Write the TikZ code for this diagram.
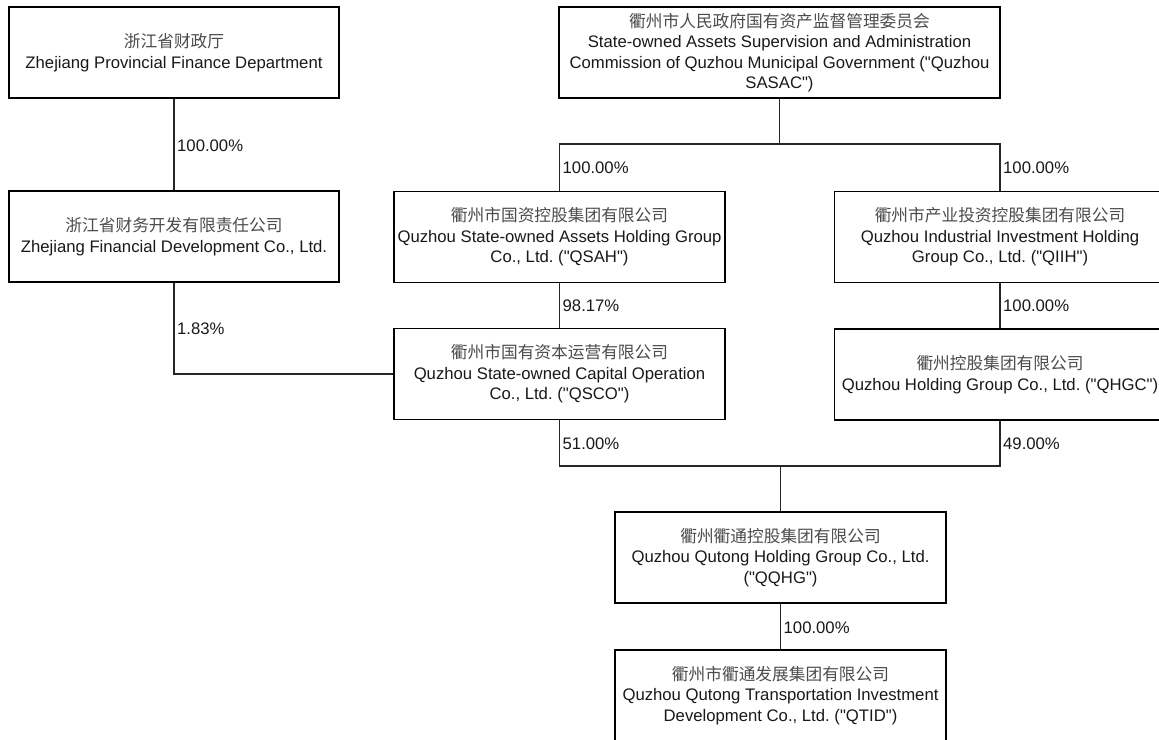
\documentclass[tikz,border=0pt]{standalone}
\usepackage{fontspec}
\setmainfont{Liberation Sans}[Ligatures=TeXOff]
\newfontfamily\cjk{Noto Sans CJK SC}
\frenchspacing
\tikzset{
  ent/.style={draw=black, line width=1.6pt, fill=white, minimum height=91pt, inner sep=0pt,
    align=center, font=\fontsize{16.7}{20.5}\selectfont, text=black!90},
  link/.style={draw=black!85, line width=1.6pt},
  pct/.style={anchor=west, inner sep=0pt, font=\fontsize{16.7}{20}\selectfont, text=black!90}
}
\newcommand{\zh}[1]{{\cjk\color{black!70}#1}}
\newcommand{\qq}{"}
\begin{document}
\begin{tikzpicture}[x=1pt,y=-1pt]
\useasboundingbox (0,0) rectangle (1159,739);
\clip (0,0) rectangle (1159,739);
\fill[white] (0,0) rectangle (1159,739);

\node[ent, minimum width=330pt] (pfd) at (174,52.5) {\zh{浙江省财政厅}\\Zhejiang Provincial Finance Department};
\node[ent, minimum width=330pt] (zfd) at (174,236.5) {\zh{浙江省财务开发有限责任公司}\\Zhejiang Financial Development Co., Ltd.};
\node[ent, minimum width=441pt] (sasac) at (779.5,52.5) {\zh{衢州市人民政府国有资产监督管理委员会}\\State-owned Assets Supervision and Administration\\Commission of Quzhou Municipal Government (\qq Quzhou\\SASAC\qq)};
\node[ent, minimum width=331pt] (qsah) at (559.5,237) {\zh{衢州市国资控股集团有限公司}\\Quzhou State-owned Assets Holding Group\\Co., Ltd. (\qq QSAH\qq)};
\node[ent, minimum width=331pt] (qiih) at (1000,237) {\zh{衢州市产业投资控股集团有限公司}\\Quzhou Industrial Investment Holding\\Group Co., Ltd. (\qq QIIH\qq)};
\node[ent, minimum width=331pt] (qsco) at (559.5,374) {\zh{衢州市国有资本运营有限公司}\\Quzhou State-owned Capital Operation\\Co., Ltd. (\qq QSCO\qq)};
\node[ent, minimum width=331pt] (qhgc) at (1000,374.5) {\zh{衢州控股集团有限公司}\\Quzhou Holding Group Co., Ltd. (\qq QHGC\qq)};
\node[ent, minimum width=331pt] (qqhg) at (780.5,557.5) {\zh{衢州衢通控股集团有限公司}\\Quzhou Qutong Holding Group Co., Ltd.\\(\qq QQHG\qq)};
\node[ent, minimum width=331pt] (qtid) at (780.5,695.5) {\zh{衢州市衢通发展集团有限公司}\\Quzhou Qutong Transportation Investment\\Development Co., Ltd. (\qq QTID\qq)};

\coordinate (j1) at (779.5,144);
\coordinate (j2) at (780.5,466);

\draw[link] (pfd.south) -- (zfd.north);
\draw[link] (zfd.south) |- (qsco.west);
\draw[link] (sasac.south) -- (j1);
\draw[link] (j1) -| (qsah.north);
\draw[link] (j1) -| (qiih.north);
\draw[link] (qsah.south) -- (qsco.north);
\draw[link] (qiih.south) -- (qhgc.north);
\draw[link] (qsco.south) |- (j2);
\draw[link] (qhgc.south) |- (j2);
\draw[link] (j2) -- (qqhg.north);
\draw[link] (qqhg.south) -- (qtid.north);

\node[pct] (l1) at (177,146) {100.00\%};
\node[pct] (l2) at (177,329) {1.83\%};
\node[pct] (l3) at (562.5,168) {100.00\%};
\node[pct] (l4) at (1003,168) {100.00\%};
\node[pct] (l5) at (562.5,306) {98.17\%};
\node[pct] (l6) at (1003,306) {100.00\%};
\node[pct] (l7) at (562.5,444) {51.00\%};
\node[pct] (l8) at (1003,444) {49.00\%};
\node[pct] (l9) at (783.5,628) {100.00\%};
\end{tikzpicture}
\end{document}
